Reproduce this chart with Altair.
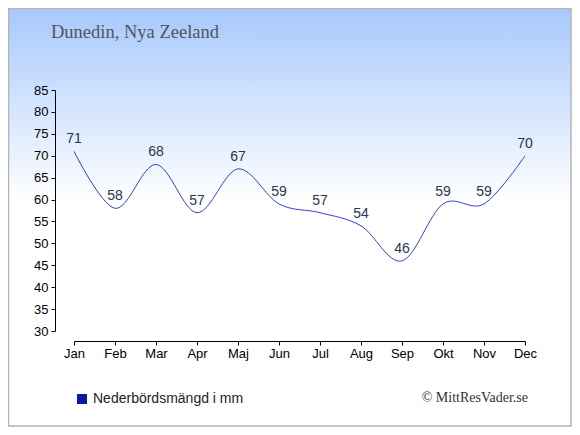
import altair as alt
import pandas as pd

months = ["Jan", "Feb", "Mar", "Apr", "Maj", "Jun", "Jul", "Aug", "Sep", "Okt", "Nov", "Dec"]
precip = [71, 58, 68, 57, 67, 59, 57, 54, 46, 59, 59, 70]
y_ticks = [30, 35, 40, 45, 50, 55, 60, 65, 70, 75, 80, 85]
title_text = "Dunedin, Nya Zeeland"
legend_text = "Nederbördsmängd i mm"
credit_text = "© MittResVader.se"

W, H = 451, 241
PL, PT, PR, PB = 66, 82, 47, 96

df = pd.DataFrame({"month": months, "value": precip})
one = pd.DataFrame({"a": [0]})

xenc = alt.X("month:N", sort=months,
             scale=alt.Scale(type="point", padding=0),
             axis=alt.Axis(title=None, labelAngle=0, offset=10, tickSize=4, zindex=2,
                           labelPadding=2, labelFont="Liberation Sans", labelFontSize=13,
                           labelColor="#000000", domainColor="#000000", tickColor="#000000",
                           labelOverlap=False, grid=False))
yenc = alt.Y("value:Q", scale=alt.Scale(domain=[30, 85], nice=False, zero=False),
             axis=alt.Axis(title=None, values=y_ticks, tickCount=12, offset=19, tickSize=4, zindex=2,
                           labelPadding=3, labelFont="Liberation Sans", labelFontSize=13,
                           labelColor="#000000", domainColor="#000000", tickColor="#000000",
                           labelOverlap=False, labelFlush=False, grid=False))

bg = alt.Chart(one).mark_rect(
    color=alt.Gradient(gradient="linear",
                       stops=[alt.GradientStop(color="#a6c8fd", offset=0),
                              alt.GradientStop(color="#ffffff", offset=0.46),
                              alt.GradientStop(color="#ffffff", offset=1)],
                       x1=0, x2=0, y1=0, y2=1),
    stroke="#b4b4b4", strokeWidth=1.5
).encode(x=alt.value(-PL + 0.5), x2=alt.value(W + PR - 1), y=alt.value(-PT + 0.5), y2=alt.value(H + PB - 1))

line = alt.Chart(df).mark_line(color="#3040cc", strokeWidth=1, interpolate="cardinal").encode(x=xenc, y=yenc)

labels = alt.Chart(df).mark_text(dy=-8, baseline="alphabetic", font="Liberation Sans",
                                 fontSize=14, color="#2a3550").encode(
    x=alt.X("month:N", sort=months), y="value:Q", text="value:Q")

title = alt.Chart(one).mark_text(text=title_text, align="left", baseline="alphabetic",
                                 font="Liberation Serif", fontSize=18.5, color="#555555").encode(
    x=alt.value(-23), y=alt.value(-52))

legend_sym = alt.Chart(one).mark_square(size=100, color="#0a1aa8", opacity=1).encode(
    x=alt.value(8), y=alt.value(309))
legend_txt = alt.Chart(one).mark_text(text=legend_text, align="left", baseline="alphabetic",
                                      font="Liberation Sans", fontSize=14, color="#222222").encode(
    x=alt.value(19), y=alt.value(313))

credit = alt.Chart(one).mark_text(text=credit_text, align="right", baseline="alphabetic",
                                  font="Liberation Serif", fontSize=14, color="#333333").encode(
    x=alt.value(454), y=alt.value(312))

chart = alt.layer(bg, line, labels, title, legend_sym, legend_txt, credit).properties(
    width=W, height=H,
    autosize=alt.AutoSizeParams(type="none"),
    padding={"left": PL, "top": PT, "right": PR, "bottom": PB},
).configure_view(stroke=None).configure(background="white")

chart.save("out.html", embed_options={"renderer": "svg", "actions": False})
